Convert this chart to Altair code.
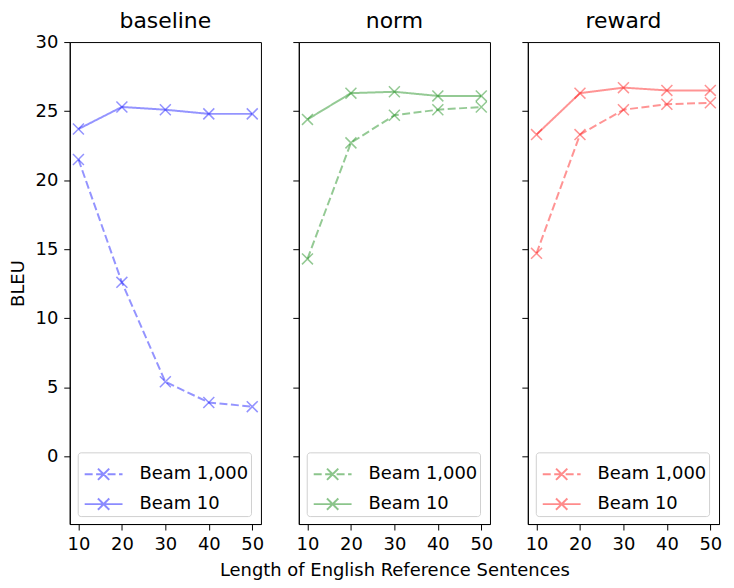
import altair as alt
import pandas as pd

lengths = [10, 20, 30, 40, 50]
beams = ["Beam 1,000", "Beam 10"]
panels = ["baseline", "norm", "reward"]
colors = {"baseline": "#0000ff", "norm": "#008000", "reward": "#ff0000"}

baseline_beam1000 = [21.5, 12.6, 5.4, 3.9, 3.6]
baseline_beam10 = [23.7, 25.3, 25.1, 24.8, 24.8]
norm_beam1000 = [14.3, 22.7, 24.7, 25.1, 25.3]
norm_beam10 = [24.4, 26.3, 26.4, 26.1, 26.1]
reward_beam1000 = [14.7, 23.3, 25.1, 25.5, 25.6]
reward_beam10 = [23.3, 26.3, 26.7, 26.5, 26.5]

series = {
    "baseline": (baseline_beam1000, baseline_beam10),
    "norm": (norm_beam1000, norm_beam10),
    "reward": (reward_beam1000, reward_beam10),
}

X_PATH = "M-1,-1L1,1M-1,1L1,-1"
# line with an "x" in the middle; x arms drawn from the centre so dashes do not cut them
LEGEND_PATH = ("M-1,0H1"
               "M0,0L0.3,0.3M0,0L-0.3,0.3M0,0L0.3,-0.3M0,0L-0.3,-0.3")

W, H = 192, 484


def panel(name, idx):
    b1000, b10 = series[name]
    rows = []
    for beam, vals in zip(beams, (b1000, b10)):
        for L, v in zip(lengths, vals):
            rows.append({"length": L, "bleu": v, "beam": beam})
    df = pd.DataFrame(rows)
    c = colors[name]

    x = alt.X(
        "length:Q",
        scale=alt.Scale(domain=[8, 52], nice=False, zero=False),
        axis=alt.Axis(
            values=lengths,
            title="Length of English Reference Sentences" if idx == 1 else None,
            grid=False,
            labelFlush=False,
        ),
    )
    y = alt.Y(
        "bleu:Q",
        scale=alt.Scale(domain=[-4.9, 30], nice=False, zero=False),
        axis=alt.Axis(
            values=[0, 5, 10, 15, 20, 25, 30],
            title="BLEU" if idx == 0 else None,
            labels=(idx == 0),
            grid=False,
        ),
    )
    dash = alt.StrokeDash(
        "beam:N",
        scale=alt.Scale(domain=beams, range=[[8, 3.5], [1, 0]]),
        legend=alt.Legend(
            title=None,
            orient="bottom-left",
            offset=8,
            symbolType=LEGEND_PATH,
            symbolSize=1444,
            symbolOffset=4,
            symbolStrokeColor=c,
            symbolOpacity=0.45,
            symbolStrokeWidth=2,
            symbolFillColor="transparent",
        ),
    )
    line = alt.Chart(df).mark_line(color=c, opacity=0.42, strokeWidth=2).encode(
        x=x, y=y, strokeDash=dash
    )
    pts = alt.Chart(df).mark_point(
        shape=X_PATH, color=c, filled=False, opacity=0.42, size=121, strokeWidth=1.5
    ).encode(x=x, y=y, detail="beam:N")
    title = alt.TitleParams(name, offset=0 if idx == 0 else 9)
    return alt.layer(line, pts).properties(width=W, height=H, title=title)


chart = (
    alt.hconcat(*[panel(n, i) for i, n in enumerate(panels)], spacing=38, bounds="flush")
    .resolve_scale(strokeDash="independent")
    .resolve_legend(strokeDash="independent")
    .properties(padding={"left": 0, "top": 0, "right": 3, "bottom": 0})
    .configure(font="DejaVu Sans")
    .configure_view(stroke="black", strokeWidth=1)
    .configure_axis(
        domainColor="black",
        tickColor="black",
        tickSize=6,
        labelFontSize=18,
        labelColor="black",
        labelPadding=6,
        titleFontSize=18,
        titleFontWeight="normal",
        titleColor="black",
        titlePadding=8,
    )
    .configure_title(fontSize=22, fontWeight="normal", color="black",
                     anchor="middle", frame="group", baseline="alphabetic")
    .configure_legend(
        fillColor="white",
        strokeColor="#d0d0d0",
        cornerRadius=3,
        padding=2,
        labelFontSize=18,
        labelColor="black",
        labelOffset=16,
        rowPadding=-7,
    )
)

chart.save("out.html", embed_options={"renderer": "svg", "actions": False})
